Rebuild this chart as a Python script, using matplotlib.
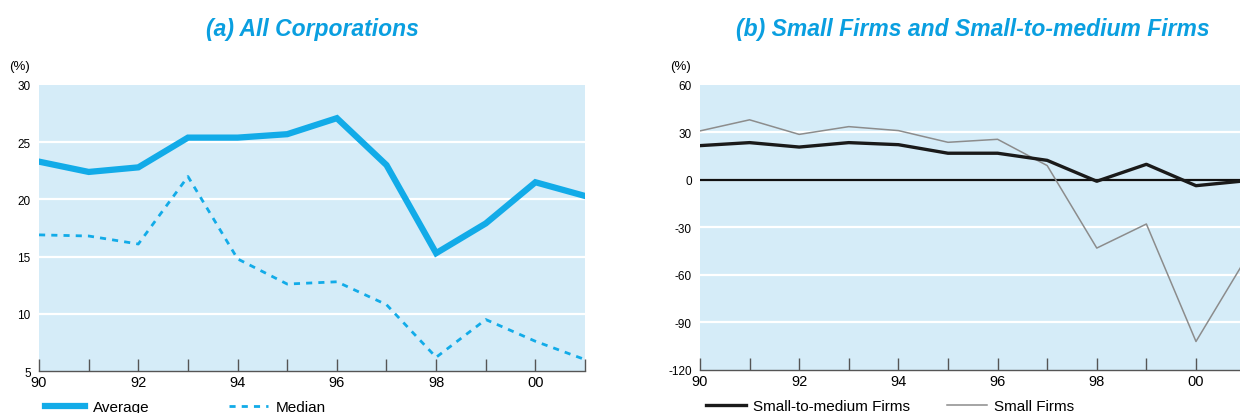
import matplotlib.pyplot as plt

plt.rcParams['font.family'] = ['Liberation Sans', 'DejaVu Sans']

# --- Data ---
years = list(range(1990, 2002))
year_labels = ["90", "92", "94", "96", "98", "00"]

average = [23.3, 22.4, 22.8, 25.4, 25.4, 25.7, 27.1, 23.0, 15.3, 17.9, 21.5, 20.3]
median = [16.9, 16.8, 16.1, 22.0, 14.8, 12.6, 12.8, 10.8, 6.2, 9.5, 7.6, 6.0]

small_medium = [21.7, 23.6, 20.8, 23.6, 22.3, 16.9, 16.9, 12.4, -0.8, 9.9, -3.6, -0.5]
small = [31.0, 38.0, 28.8, 33.7, 31.2, 23.8, 25.7, 9.1, -43.0, -27.8, -102.0, -50.0]

BLUE = "#12ABE8"
BG = "#D5ECF8"
TITLE_BLUE = "#0A9FE0"

fig = plt.figure(figsize=(12.4, 4.14), dpi=100)
ax1 = fig.add_axes([0.0315, 0.1014, 0.4403, 0.6909])
ax2 = fig.add_axes([0.5645, 0.1039, 0.44, 0.6884])


def style_axis(ax, yticks, ylim):
    ax.set_facecolor(BG)
    ax.set_xlim(years[0], years[-1])
    ax.set_ylim(*ylim)
    for s in ["top", "right", "left"]:
        ax.spines[s].set_visible(False)
    ax.spines["bottom"].set_color("#555555")
    ax.spines["bottom"].set_linewidth(1.0)
    ax.set_yticks(yticks)
    ax.set_yticklabels([str(t) for t in yticks])
    ax.tick_params(axis="y", length=0, labelsize=8.5, pad=6)
    ax.set_xticks(years)
    ax.set_xticklabels([year_labels[i // 2] if i % 2 == 0 else "" for i in range(len(years))])
    ax.tick_params(axis="x", direction="in", length=9, width=1, color="#555555",
                   labelsize=10.5, pad=3)
    for t in yticks[1:-1]:
        ax.axhline(t, color="white", lw=1.6, zorder=1)
    ax.text(-0.055, 1.065, "(%)", transform=ax.transAxes, fontsize=9.5, ha="left", va="center")


# --- (a) All Corporations ---
style_axis(ax1, [5, 10, 15, 20, 25, 30], (5, 30))
ax1.plot(years, average, color=BLUE, lw=4.5, solid_joinstyle="miter", zorder=3, label="Average")
ax1.plot(years, median, color=BLUE, lw=2, ls=(0, (2.2, 2.2)), zorder=3, label="Median")
ax1.set_title("(a) All Corporations", fontsize=16.5, fontweight="bold", style="italic",
              color=TITLE_BLUE, pad=36)
ax1.legend(loc="upper left", bbox_to_anchor=(0.0, -0.08), ncol=2, frameon=False,
           fontsize=11, handlelength=2.6, columnspacing=5.2, handletextpad=0.5,
           borderaxespad=0)

# --- (b) Small Firms and Small-to-medium Firms ---
style_axis(ax2, [-120, -90, -60, -30, 0, 30, 60], (-120, 60))
ax2.axhline(0, color="#111111", lw=1.6, zorder=2)
ax2.plot(years, small_medium, color="#1a1a1a", lw=2.4, zorder=4, label="Small-to-medium Firms")
ax2.plot(years, small, color="#8c8c8c", lw=1.1, zorder=3, label="Small Firms")
ax2.set_title("(b) Small Firms and Small-to-medium Firms", fontsize=16.5, fontweight="bold",
              style="italic", color=TITLE_BLUE, pad=36)
ax2.legend(loc="upper left", bbox_to_anchor=(0.0, -0.08), ncol=2, frameon=False,
           fontsize=11, handlelength=2.6, columnspacing=2.4, handletextpad=0.5,
           borderaxespad=0)

fig.savefig("out.png", dpi=100)
